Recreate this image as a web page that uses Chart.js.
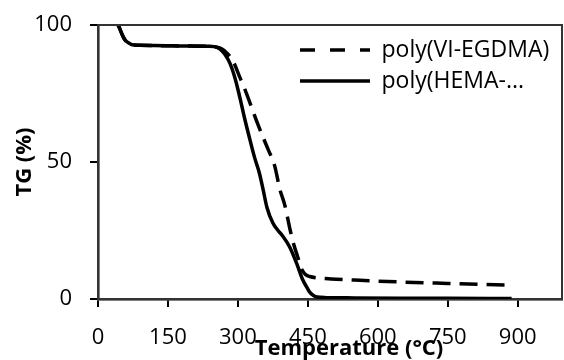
<!DOCTYPE html>
<html>
<head>
<meta charset="utf-8">
<script src="https://cdn.jsdelivr.net/npm/chart.js@4.4.1/dist/chart.umd.min.js"></script>
<style>
  html, body { margin: 0; padding: 0; background: #fff; }
</style>
</head>
<body>
<canvas id="tg" width="564" height="360"></canvas>
<script>
// TGA curves: temperature (°C) vs weight left (%)
const xTicks = [0, 150, 300, 450, 600, 750, 900]
const yTicks = [0, 50, 100]

const viLabel = "poly(VI-EGDMA)"
const viTemp = [43, 47, 51, 58, 66, 73, 90, 120, 160, 200, 240, 255, 265, 275, 289, 304, 315, 326, 340, 354, 365, 379, 390, 401, 411, 418, 428, 438, 446, 454, 470, 500, 550, 650, 750, 881]
const viTg = [100, 98.5, 96.8, 94.5, 93.4, 92.8, 92.6, 92.5, 92.4, 92.3, 92.2, 91.9, 91.3, 90, 87, 81, 76.5, 71.5, 65, 59, 54.5, 48.5, 40, 34, 26, 21, 15.5, 10.5, 8.8, 8.2, 7.7, 7.3, 6.9, 6.2, 5.7, 5.1]

const hemaLabel = "poly(HEMA-..."
const hemaTemp = [43, 47, 51, 58, 66, 73, 90, 120, 160, 200, 240, 255, 263, 272, 283, 294, 304, 315, 326, 336, 346, 354, 362, 375, 386, 396, 411, 426, 439, 447, 454, 462, 470, 490, 550, 650, 750, 887]
const hemaTg = [100, 98.5, 96.8, 94.5, 93.4, 92.8, 92.6, 92.5, 92.4, 92.3, 92.2, 91.8, 91, 89.3, 86, 80.5, 73.7, 65.5, 58, 51.5, 46, 40, 33.6, 27.7, 25, 23, 19, 13, 7, 4.5, 2.5, 1.3, 0.7, 0.5, 0.4, 0.3, 0.25, 0.2]

const FONT = "'Open Sans', 'DejaVu Sans', sans-serif"
const legendPad = 8

const toPoints = (xs, ys) => xs.map((x, i) => ({ x, y: ys[i] }))

// legend sits inside the plot, top right
const legendSpot = {
  id: "legendSpot",
  afterLayout(chart) {
    const legend = chart.legend
    if (!legend) return
    legend.left = 300 - legendPad
    legend.top = 38.5 - legendPad
  },
}

// frame round the plot area (left/bottom get covered by the black axes), plus the off-centre x title
const frameAndTitle = {
  id: "frameAndTitle",
  beforeDatasetsDraw(chart) {
    const { ctx, chartArea } = chart
    ctx.save()
    ctx.strokeStyle = "#333333"
    ctx.lineWidth = 2
    ctx.strokeRect(chartArea.left, chartArea.top, chartArea.right - chartArea.left, chartArea.bottom - chartArea.top)
    ctx.restore()
  },
  afterDraw(chart) {
    const { ctx, chartArea } = chart
    ctx.save()
    ctx.strokeStyle = "#333333"
    ctx.lineWidth = 2
    ctx.beginPath()
    ctx.moveTo(chartArea.left, chartArea.top)
    ctx.lineTo(chartArea.right, chartArea.top)
    ctx.lineTo(chartArea.right, chartArea.bottom)
    ctx.stroke()

    ctx.font = `bold 22px ${FONT}`
    ctx.fillStyle = "#000"
    ctx.textAlign = "center"
    ctx.textBaseline = "middle"
    ctx.fillText("Temperature (°C)", 349, 349)
    ctx.restore()
  },
}

const tickFont = { family: FONT, size: 22 }

new Chart(document.getElementById("tg"), {
  type: "line",
  data: {
    datasets: [
      {
        label: viLabel,
        data: toPoints(viTemp, viTg),
        borderColor: "#000",
        backgroundColor: "#000",
        borderWidth: 3.5,
        borderDash: [18, 9],
        pointRadius: 0,
        fill: false,
        cubicInterpolationMode: "monotone",
      },
      {
        label: hemaLabel,
        data: toPoints(hemaTemp, hemaTg),
        borderColor: "#000",
        backgroundColor: "#000",
        borderWidth: 3.5,
        pointRadius: 0,
        fill: false,
        cubicInterpolationMode: "monotone",
      },
    ],
  },
  options: {
    responsive: false,
    animation: false,
    layout: { padding: { top: 25, right: 2, left: 0, bottom: 0 } },
    scales: {
      x: {
        type: "linear",
        min: 0,
        max: 995,
        afterBuildTicks: (s) => { s.ticks = xTicks.map((v) => ({ value: v })) },
        afterFit: (s) => { s.height = 61 },
        grid: { drawOnChartArea: false, color: "#000", lineWidth: 2, tickLength: 8 },
        border: { color: "#000", width: 2.5 },
        ticks: { font: tickFont, color: "#000", padding: 18, maxRotation: 0, autoSkip: false },
      },
      y: {
        type: "linear",
        min: 0,
        max: 100,
        afterBuildTicks: (s) => { s.ticks = yTicks.map((v) => ({ value: v })) },
        afterFit: (s) => {
          s.width = 98
          // the tick padding would otherwise push the plot top down
          s.paddingTop = 0
          s.paddingBottom = 0
        },
        grid: { drawOnChartArea: false, color: "#000", lineWidth: 2, tickLength: 8 },
        border: { color: "#000", width: 2.5 },
        ticks: { font: tickFont, color: "#000", padding: 18 },
        title: {
          display: true,
          text: "TG (%)",
          color: "#000",
          font: { family: FONT, size: 22, weight: "bold", lineHeight: 1 },
          padding: { top: 14, bottom: 0 },
        },
      },
    },
    plugins: {
      legend: {
        position: "chartArea",
        fullSize: false,
        align: "start",
        labels: {
          usePointStyle: true,
          pointStyle: "line",
          pointStyleWidth: 70,
          color: "#000",
          font: { family: FONT, size: 23 },
          padding: legendPad,
          generateLabels(chart) {
            const items = Chart.defaults.plugins.legend.labels.generateLabels(chart)
            return items.map((item) => {
              const ds = chart.data.datasets[item.datasetIndex]
              return { ...item, lineDash: ds.borderDash ? [15, 15] : [], lineWidth: ds.borderWidth }
            })
          },
        },
      },
      tooltip: { enabled: false },
    },
  },
  plugins: [legendSpot, frameAndTitle],
})
</script>
</body>
</html>
